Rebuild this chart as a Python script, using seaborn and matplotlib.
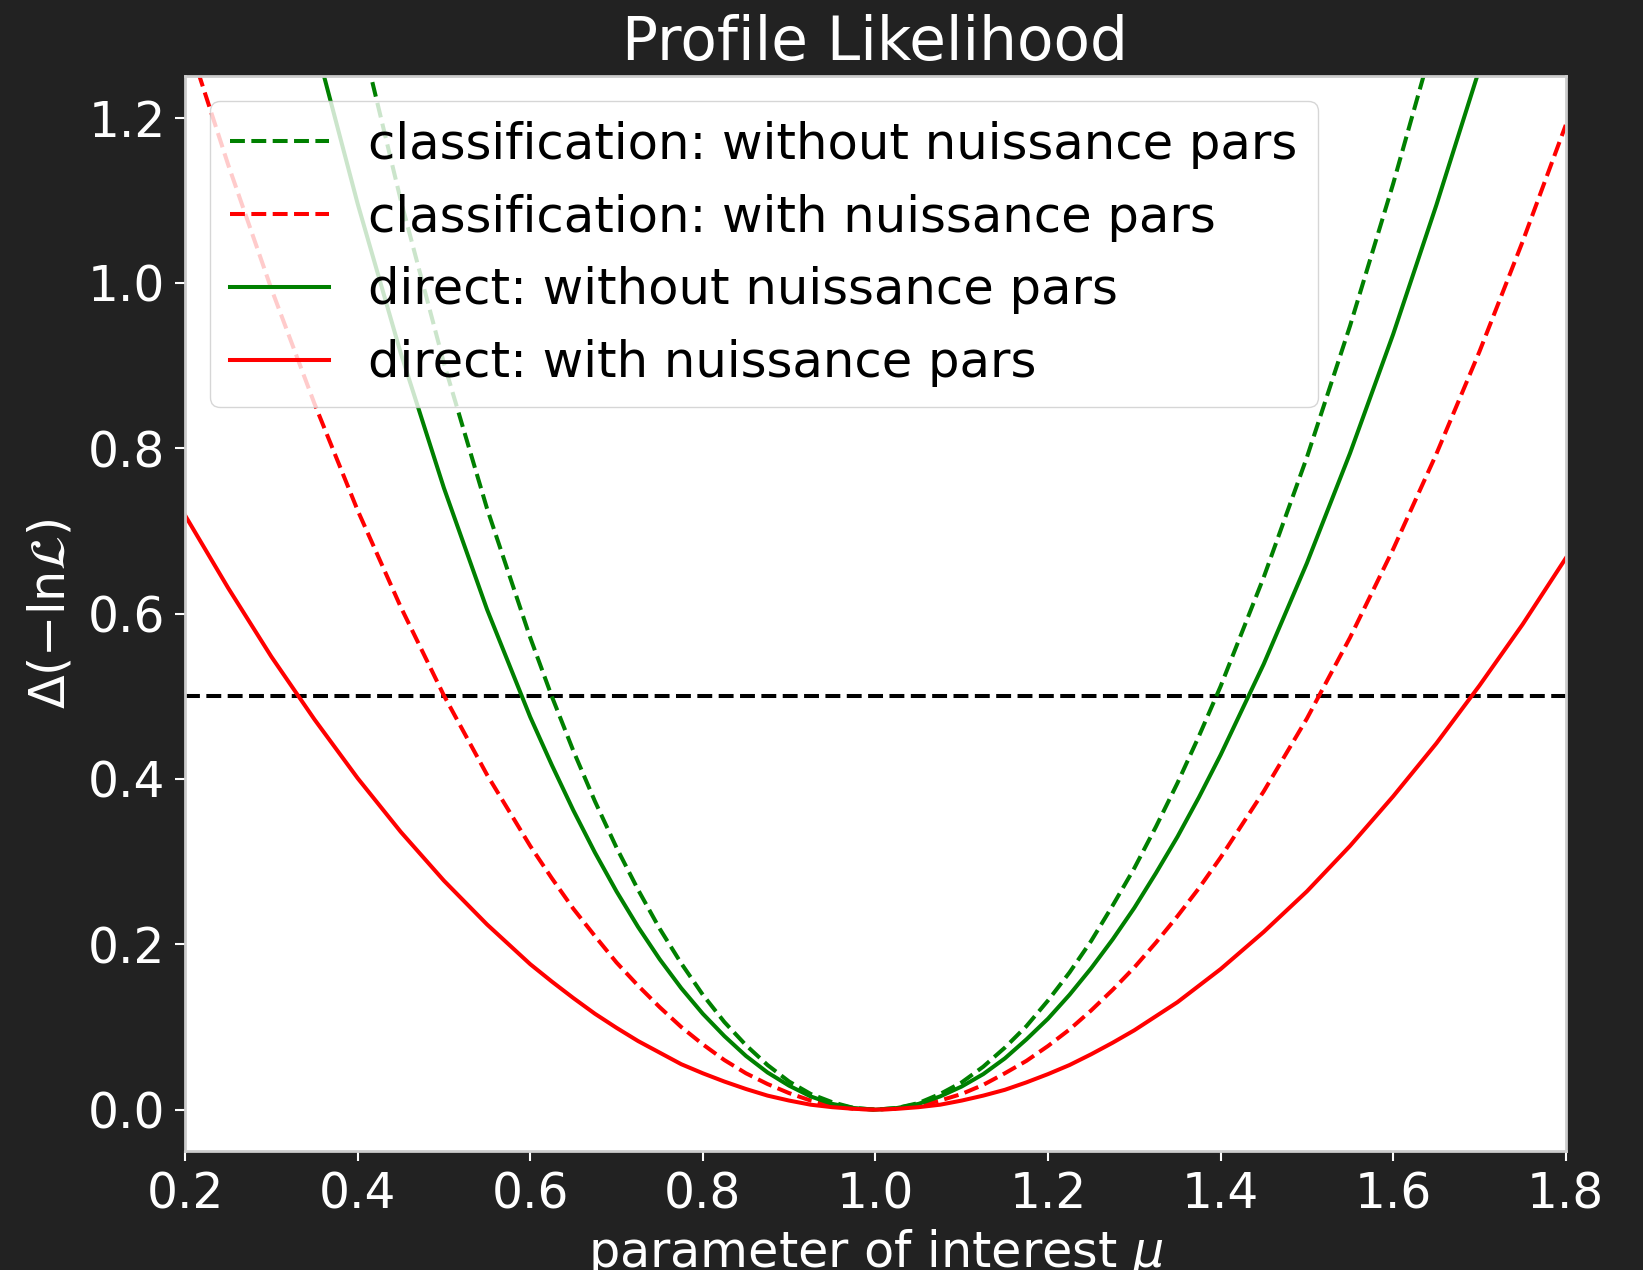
import numpy as np
import pandas as pd
import matplotlib
matplotlib.use("Agg")
import matplotlib.pyplot as plt
import seaborn as sns

mu = [0.20, 0.25, 0.30, 0.35, 0.40, 0.45, 0.50, 0.55,
      0.600, 0.625, 0.650, 0.675, 0.700, 0.725, 0.750, 0.775, 0.800, 0.825, 0.850,
      0.875, 0.900, 0.925, 0.950, 0.975, 1.000, 1.025, 1.050, 1.075, 1.100, 1.125,
      1.150, 1.175, 1.200, 1.225, 1.250, 1.275, 1.300, 1.325, 1.350, 1.375, 1.400,
      1.45, 1.50, 1.55, 1.60, 1.65, 1.70, 1.75, 1.80]

clf_no_nuis = [2.400, 2.097, 1.815, 1.556, 1.317, 1.100, 0.903, 0.727,
               0.571, 0.500, 0.434, 0.373, 0.317, 0.266, 0.219, 0.177, 0.139, 0.106, 0.078,
               0.054, 0.034, 0.019, 0.009, 0.002, 0.000, 0.002, 0.008, 0.019, 0.033, 0.052,
               0.075, 0.101, 0.132, 0.166, 0.204, 0.247, 0.292, 0.342, 0.395, 0.452, 0.512,
               0.644, 0.789, 0.948, 1.120, 1.305, 1.502, 1.712, 1.933]
clf_nuis = [1.304, 1.143, 0.993, 0.854, 0.725, 0.608, 0.501, 0.405,
            0.319, 0.280, 0.243, 0.210, 0.178, 0.150, 0.124, 0.100, 0.079, 0.060, 0.044,
            0.031, 0.020, 0.011, 0.005, 0.001, 0.000, 0.001, 0.005, 0.011, 0.019, 0.030,
            0.044, 0.059, 0.077, 0.097, 0.120, 0.145, 0.172, 0.202, 0.234, 0.268, 0.305,
            0.385, 0.473, 0.571, 0.678, 0.793, 0.917, 1.050, 1.191]
dir_no_nuis = [1.990, 1.743, 1.509, 1.294, 1.096, 0.915, 0.752, 0.605,
               0.475, 0.417, 0.362, 0.311, 0.264, 0.221, 0.182, 0.147, 0.116, 0.089, 0.065,
               0.045, 0.029, 0.016, 0.007, 0.002, 0.000, 0.002, 0.007, 0.016, 0.028, 0.043,
               0.062, 0.085, 0.110, 0.139, 0.171, 0.206, 0.244, 0.286, 0.330, 0.378, 0.429,
               0.539, 0.661, 0.794, 0.938, 1.094, 1.259, 1.435, 1.621]
dir_nuis = [0.719, 0.631, 0.548, 0.472, 0.401, 0.336, 0.277, 0.224,
            0.176, 0.155, 0.135, 0.116, 0.099, 0.083, 0.069, 0.055, 0.044, 0.034, 0.025,
            0.017, 0.011, 0.006, 0.003, 0.001, 0.000, 0.001, 0.003, 0.006, 0.011, 0.017,
            0.024, 0.033, 0.043, 0.054, 0.067, 0.081, 0.096, 0.113, 0.130, 0.150, 0.170,
            0.215, 0.264, 0.319, 0.379, 0.443, 0.513, 0.587, 0.667]

labels = ["classification: without nuissance pars",
          "classification: with nuissance pars",
          "direct: without nuissance pars",
          "direct: with nuissance pars"]
threshold = 0.5
x_ticks = [0.2, 0.4, 0.6, 0.8, 1.0, 1.2, 1.4, 1.6, 1.8]
y_ticks = [0.0, 0.2, 0.4, 0.6, 0.8, 1.0, 1.2]

BG = "#222222"
plt.rcParams.update({
    "font.family": ["DejaVu Sans"],
    "font.size": 35,
    "text.color": "white",
    "axes.labelcolor": "white",
    "xtick.color": "white",
    "ytick.color": "white",
    "figure.facecolor": BG,
    "savefig.facecolor": BG,
})

fig = plt.figure(figsize=(16.43, 12.7), dpi=100)
ax = fig.add_axes([0.1126, 0.0937, 0.953 - 0.1126, 0.940 - 0.0937])
ax.set_facecolor("white")

ax.axhline(threshold, color="black", linestyle="--", linewidth=2.9, zorder=1)

df = pd.DataFrame({"mu": mu, "a": clf_no_nuis, "b": clf_nuis,
                   "c": dir_no_nuis, "d": dir_nuis})
specs = [("a", "green", "--", labels[0]),
         ("b", "red", "--", labels[1]),
         ("c", "green", "-", labels[2]),
         ("d", "red", "-", labels[3])]
for col, color, ls, lab in specs:
    sns.lineplot(data=df, x="mu", y=col, color=color, linestyle=ls,
                 linewidth=2.9, label=lab, ax=ax, zorder=2)

ax.set_xlim(0.2, 1.8)
ax.set_ylim(-0.05, 1.25)
ax.set_xticks(x_ticks)
ax.set_yticks(y_ticks)
ax.set_xticklabels([f"{v:.1f}" for v in x_ticks])
ax.set_yticklabels([f"{v:.1f}" for v in y_ticks])
ax.tick_params(axis="both", which="major", length=7, width=1.5, pad=7,
               labelsize=35, colors="white")

for s in ax.spines.values():
    s.set_color("#cccccc")
    s.set_linewidth(2)

ax.set_xlabel(r"parameter of interest $\mu$", fontsize=35.5, labelpad=6)
ax.set_ylabel(r"$\Delta(-\mathrm{ln}\mathcal{L})$", fontsize=35.5, labelpad=10)
ax.set_title("Profile Likelihood", fontsize=43, color="white", pad=12)

leg = ax.legend(loc="upper left", fontsize=35.7, frameon=True, framealpha=0.8,
                edgecolor="#cccccc", fancybox=True)
for t in leg.get_texts():
    t.set_color("black")

fig.savefig("out.png", dpi=100, facecolor=BG)
